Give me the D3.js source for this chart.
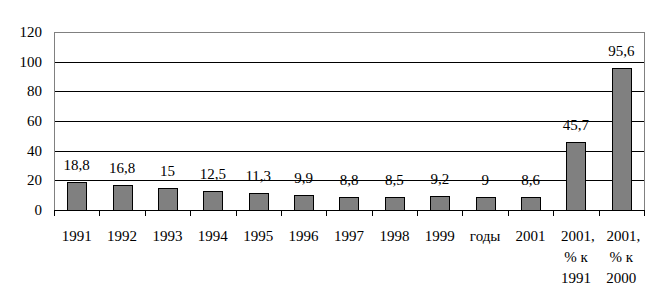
<!DOCTYPE html>
<html><head><meta charset="utf-8">
<script src="https://cdn.jsdelivr.net/npm/d3@7"></script>
<style>body{margin:0;background:#fff}svg{display:block}text{font-family:"Liberation Serif","DejaVu Serif",serif}</style>
</head><body>
<script>
const categories = [["1991"],["1992"],["1993"],["1994"],["1995"],["1996"],["1997"],["1998"],["1999"],["годы"],["2001"],["2001,","% к","1991"],["2001,","% к","2000"]];
const values = [18.8,16.8,15,12.5,11.3,9.9,8.8,8.5,9.2,9,8.6,45.7,95.6];
const labels = ["18,8","16,8","15","12,5","11,3","9,9","8,8","8,5","9,2","9","8,6","45,7","95,6"];
const yTicks = [0,20,40,60,80,100,120];

const W=661,H=301;
const L=54,R=644,T=32,B=210;
const svg=d3.select("body").append("svg").attr("width",W).attr("height",H);
const fs=15;
const x=d3.scaleBand().domain(d3.range(categories.length)).range([L,R]).paddingInner(0.58).paddingOuter(0.29);
const xb=d3.scaleBand().domain(d3.range(categories.length)).range([L,R]);
const y=d3.scaleLinear().domain([0,120]).range([B,T]);

// gridlines
svg.append("g").selectAll("line").data(yTicks.filter(d=>d>0&&d<120)).join("line")
 .attr("x1",L).attr("x2",R).attr("y1",d=>Math.round(y(d))+0.5).attr("y2",d=>Math.round(y(d))+0.5)
 .attr("stroke","#000").attr("stroke-width",1);
// frame
svg.append("rect").attr("x",L+0.5).attr("y",Math.round(y(120))+0.5).attr("width",R-L).attr("height",B-Math.round(y(120)))
 .attr("fill","none").attr("stroke","#808080");
// bars
svg.append("g").selectAll("rect").data(values).join("rect")
 .attr("x",(d,i)=>Math.round(x(i))+0.5).attr("width",Math.round(x.bandwidth()))
 .attr("y",d=>Math.round(y(d))+0.5).attr("height",d=>B-Math.round(y(d)))
 .attr("fill","#808080").attr("stroke","#000").attr("stroke-width",1);
// value labels
svg.append("g").selectAll("text").data(values).join("text")
 .attr("x",(d,i)=>x(i)+x.bandwidth()/2).attr("y",d=>y(d)-12)
 .attr("text-anchor","middle").attr("font-size",fs).attr("fill","#000")
 .text((d,i)=>labels[i]);
// bottom axis
svg.append("line").attr("x1",L).attr("x2",R+1).attr("y1",B+0.5).attr("y2",B+0.5).attr("stroke","#000");
svg.append("g").selectAll("line").data(d3.range(categories.length+1)).join("line")
 .attr("x1",i=>Math.round(L+i*xb.step())+0.5).attr("x2",i=>Math.round(L+i*xb.step())+0.5)
 .attr("y1",B).attr("y2",B+6).attr("stroke","#000");
// x labels
const xl=svg.append("g").selectAll("text").data(categories).join("text")
 .attr("text-anchor","middle").attr("font-size",fs).attr("fill","#000");
xl.each(function(c,i){
  const t=d3.select(this);
  c.forEach((s,j)=>t.append("tspan").attr("x",xb(i)+xb.bandwidth()/2+(j===0&&c.length>1?2:0)).attr("y",241+j*21).text(s));
});
// y labels
svg.append("g").selectAll("text").data(yTicks).join("text")
 .attr("x",42).attr("y",d=>y(d)+5).attr("text-anchor","end")
 .attr("font-size",fs).attr("fill","#000").text(d=>d);
</script>
</body></html>
